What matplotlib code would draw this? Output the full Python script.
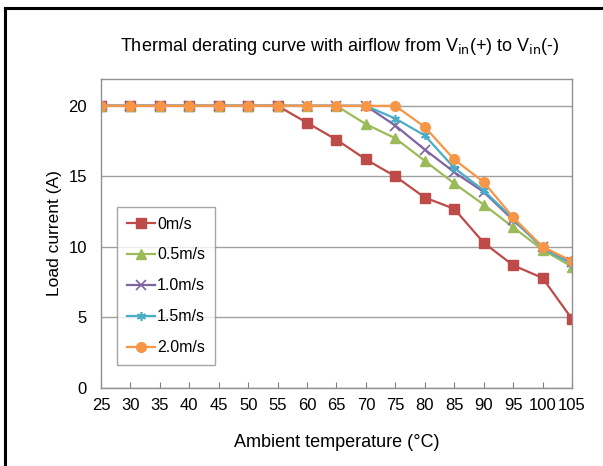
import matplotlib
matplotlib.use("Agg")
import matplotlib.pyplot as plt
from matplotlib.lines import Line2D

plt.rcParams['font.family'] = ['Liberation Sans', 'DejaVu Sans']

# ambient temperature (°C)
temps = [25, 30, 35, 40, 45, 50, 55, 60, 65, 70, 75, 80, 85, 90, 95, 100, 105]

# load current (A) per airflow
i_0 = [20, 20, 20, 20, 20, 20, 20, 18.8, 17.6, 16.2, 15.0, 13.5, 12.7, 10.3, 8.7, 7.8, 4.9]
i_05 = [20, 20, 20, 20, 20, 20, 20, 20, 20, 18.7, 17.7, 16.1, 14.5, 13.0, 11.4, 9.8, 8.6]
i_10 = [20, 20, 20, 20, 20, 20, 20, 20, 20, 20, 18.6, 16.9, 15.3, 13.9, 11.9, 10.0, 8.9]
i_15 = [20, 20, 20, 20, 20, 20, 20, 20, 20, 20, 19.1, 17.9, 15.6, 14.0, 12.0, 9.9, 8.8]
i_20 = [20, 20, 20, 20, 20, 20, 20, 20, 20, 20, 20, 18.5, 16.2, 14.6, 12.1, 10.0, 9.0]

labels = ['0m/s', '0.5m/s', '1.0m/s', '1.5m/s', '2.0m/s']

fig = plt.figure(figsize=(6.03, 4.66), dpi=100)
ax = fig.add_axes([0.1675, 0.1674, 0.781, 0.663])

ax.plot(temps, i_0, color='#BE4B48', marker='s', markersize=6.5, linewidth=1.6, label=labels[0])
ax.plot(temps, i_05, color='#9BBB59', marker='^', markersize=6.5, linewidth=1.6, label=labels[1])
ax.plot(temps, i_10, color='#8064A2', marker='x', markersize=6.5, markeredgewidth=1.2, linewidth=1.6, label=labels[2])
ax.plot(temps, i_15, color='#4BACC6', marker=(6, 2, 0), markersize=6.5, markeredgewidth=1.2, linewidth=1.6, label=labels[3])
ax.plot(temps, i_20, color='#F79646', marker='o', markersize=7, linewidth=1.6, label=labels[4])

ax.set_xlim(25, 105)
ax.set_ylim(0, 21.9)
ax.set_xticks(temps)
ax.set_yticks([0, 5, 10, 15, 20])
ax.yaxis.grid(True, color='#A0A0A0', linewidth=1)
ax.set_axisbelow(True)
ax.tick_params(axis='x', direction='in', length=4, color='#808080', labelsize=12, pad=7)
ax.tick_params(axis='y', length=0, labelsize=12, pad=10)
for s in ax.spines.values():
    s.set_color('#909090')
    s.set_linewidth(1)

ax.set_xlabel('Ambient temperature (°C)', fontsize=13, labelpad=15)
ax.set_ylabel('Load current (A)', fontsize=12.5, labelpad=5)
fig.text(0.564, 0.901, 'Thermal derating curve with airflow from V$_{\\rm in}$(+) to V$_{\\rm in}$(-)',
         ha='center', va='center', fontsize=13)

leg = ax.legend(loc='upper left', bbox_to_anchor=(0.034, 0.586), frameon=True, fancybox=False,
                edgecolor='#909090', fontsize=11.5, handlelength=1.75, handletextpad=0.15,
                labelspacing=1.0, borderpad=0.6, borderaxespad=0)
leg.get_frame().set_linewidth(1)

# outer frame (cropped: only left and top visible)
fig.add_artist(Line2D([0.008, 0.008], [0.0, 0.982], color='black', linewidth=2.2, transform=fig.transFigure))
fig.add_artist(Line2D([0.008, 1.0], [0.982, 0.982], color='black', linewidth=2.2, transform=fig.transFigure))

fig.savefig('out.png', dpi=100)
